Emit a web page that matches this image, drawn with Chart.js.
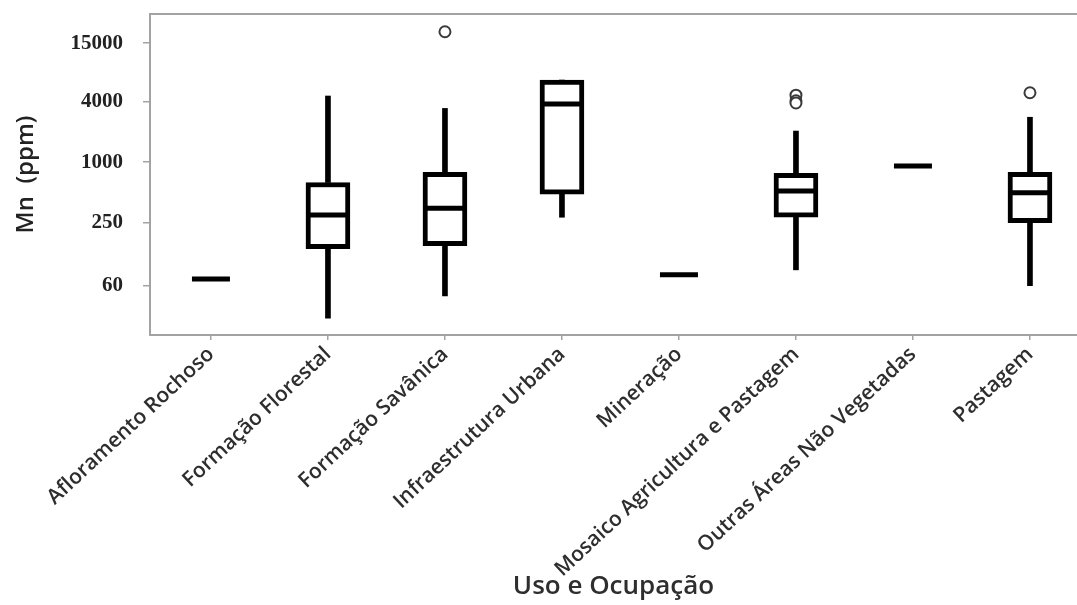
<!DOCTYPE html>
<html lang="pt">
<head>
<meta charset="utf-8">
<title>Mn (ppm) por Uso e Ocupação</title>
<script src="https://cdn.jsdelivr.net/npm/chart.js@4.4.1/dist/chart.umd.min.js"></script>
<style>
  html, body { margin: 0; padding: 0; background: #ffffff; }
  #wrap { width: 1077px; height: 605px; }
</style>
</head>
<body>
<div id="wrap"><canvas id="chart" width="1077" height="605"></canvas></div>
<script>
// Land-use classes on the horizontal axis
const categories = [
  'Afloramento Rochoso',
  'Formação Florestal',
  'Formação Savânica',
  'Infraestrutura Urbana',
  'Mineração',
  'Mosaico Agricultura e Pastagem',
  'Outras Áreas Não Vegetadas',
  'Pastagem'
];

// Box-plot statistics of Mn (ppm) for each class
const whiskerLow  = [70, 28.6, 47.5, 285, 77, 86, 915, 60];
const quartile1   = [70, 139, 149, 481, 77, 285, 915, 252];
const medians     = [70, 300, 350, 3760, 77, 519, 915, 499];
const quartile3   = [70, 629, 793, 6490, 77, 776, 915, 793];
const whiskerHigh = [70, 4510, 3400, 6490, 77, 2030, 915, 2780];

// Outliers: class index and value
const outlierClass = [2, 5, 5, 5, 7];
const outlierValue = [19500, 4600, 4050, 3850, 4860];

// Log-axis tick values and their labels
const yTickValues = [60, 250, 1000, 4000, 15000];
const yTickLabels = ['60', '250', '1000', '4000', '15000'];

const axisGrey = '#a3a3a3';
const idx = categories.map((_, i) => i);

const lowerWhiskers = idx.map(i => ({ x: i, y: [whiskerLow[i], quartile1[i]] }));
const upperWhiskers = idx.map(i => ({ x: i, y: [quartile3[i], whiskerHigh[i]] }));
const boxes = idx.map(i => ({ x: i, y: [quartile1[i], quartile3[i]] }));
const medianPts = idx.map(i => ({ x: i, y: medians[i] }));
const outlierPts = outlierClass.map((c, k) => ({ x: c, y: outlierValue[k] }));

const singleValue = i => quartile1[i] === quartile3[i] && whiskerLow[i] === whiskerHigh[i];

// Frame line along the top of the plotting area
const topFrame = {
  id: 'topFrame',
  afterDraw(chart) {
    const { ctx, chartArea } = chart;
    ctx.save();
    ctx.strokeStyle = axisGrey;
    ctx.lineWidth = 2;
    ctx.beginPath();
    ctx.moveTo(chartArea.left - 1, chartArea.top);
    ctx.lineTo(chartArea.right, chartArea.top);
    ctx.stroke();
    ctx.restore();
  }
};

new Chart(document.getElementById('chart'), {
  type: 'bar',
  data: {
    datasets: [
      {
        label: 'whisker-low', data: lowerWhiskers, grouped: false,
        backgroundColor: '#000', borderWidth: 0, barThickness: 5, order: 4
      },
      {
        label: 'whisker-high', data: upperWhiskers, grouped: false,
        backgroundColor: '#000', borderWidth: 0, barThickness: 5, order: 4
      },
      {
        label: 'box', data: boxes, grouped: false,
        backgroundColor: '#ffffff', borderColor: '#000', borderWidth: 5,
        borderSkipped: false, barThickness: 44, order: 3
      },
      {
        type: 'scatter', label: 'median', data: medianPts, order: 2,
        pointStyle: 'line',
        pointRadius: ctx => singleValue(ctx.dataIndex) ? 19 : 20,
        pointHoverRadius: ctx => singleValue(ctx.dataIndex) ? 19 : 20,
        borderColor: '#000', borderWidth: 5
      },
      {
        type: 'scatter', label: 'outlier', data: outlierPts, order: 1,
        pointStyle: 'circle', pointRadius: 5.5,
        backgroundColor: '#ffffff', borderColor: '#3a3a3a', borderWidth: 2
      }
    ]
  },
  options: {
    responsive: false,
    animation: false,
    layout: { autoPadding: false, padding: { top: 14, left: 0, right: 0, bottom: 0 } },
    plugins: { legend: { display: false }, tooltip: { enabled: false } },
    scales: {
      x: {
        type: 'linear',
        position: 'bottom',
        offset: false,
        min: -0.521,
        max: 7.402,
        afterBuildTicks: s => { s.ticks = idx.map(v => ({ value: v })); },
        afterFit: s => { s.height = 270; s.paddingLeft = 0; s.paddingRight = 0; },
        grid: { display: true, offset: false, drawOnChartArea: false, drawTicks: true, tickLength: 5, color: axisGrey, lineWidth: 1.5 },
        border: { display: true, color: axisGrey, width: 2 },
        ticks: {
          autoSkip: false,
          minRotation: 43,
          maxRotation: 43,
          padding: 2,
          color: '#2e2e2e',
          font: { family: 'Open Sans', size: 21, weight: '600' },
          callback: (value) => categories[value]
        },
        title: {
          display: true,
          text: 'Uso e Ocupação',
          color: '#2e2e2e',
          font: { family: 'Open Sans', size: 26, weight: '600' },
          padding: { top: 0, bottom: 3 }
        }
      },
      y: {
        type: 'logarithmic',
        position: 'left',
        min: 19.5,
        max: 29200,
        afterBuildTicks: s => { s.ticks = yTickValues.map(v => ({ value: v })); },
        afterFit: s => { s.width = 150; s.paddingTop = 0; s.paddingBottom = 0; },
        grid: { display: true, drawOnChartArea: false, drawTicks: true, tickLength: 7, color: axisGrey, lineWidth: 1.5 },
        border: { display: true, color: axisGrey, width: 2 },
        ticks: {
          padding: 20,
          color: '#222',
          font: { family: 'Liberation Serif', size: 21, weight: 'bold' },
          callback: (value, i) => yTickLabels[i]
        },
        title: {
          display: true,
          text: 'Mn  (ppm)',
          color: '#222',
          font: { family: 'Open Sans', size: 24, weight: '600' },
          padding: { top: 12, bottom: 0 }
        }
      }
    }
  },
  plugins: [topFrame]
});
</script>
</body>
</html>
